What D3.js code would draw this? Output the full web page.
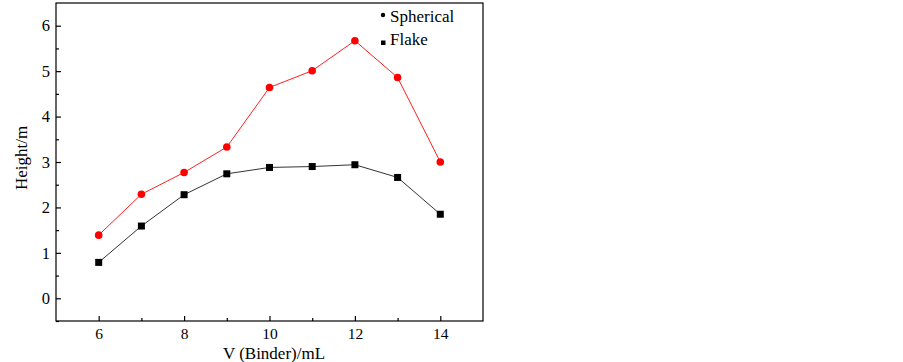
<!DOCTYPE html>
<html>
<head>
<meta charset="utf-8">
<script src="https://cdn.jsdelivr.net/npm/d3@7"></script>
<style>
  body { margin: 0; background: #fff; }
  text { font-family: "Liberation Serif", "Times New Roman", serif; fill: #000; }
</style>
</head>
<body>
<svg id="chart" width="903" height="362"></svg>
<script>
// binder volume (mL)
const volumes = [6, 7, 8, 9, 10, 11, 12, 13, 14];
const spherical = [1.39, 2.29, 2.77, 3.33, 4.64, 5.01, 5.67, 4.86, 3.0];
const flake = [0.79, 1.59, 2.28, 2.74, 2.88, 2.9, 2.94, 2.66, 1.85];
const xTicks = [6, 8, 10, 12, 14];
const xMinor = [7, 9, 11, 13];
const yTicks = [0, 1, 2, 3, 4, 5, 6];
const yMinor = [-0.5, 0.5, 1.5, 2.5, 3.5, 4.5, 5.5];

let x1 = 56, x2 = 483, y1 = 3, y2 = 321;

let svg = d3.select("#chart");

let xScale = d3.scaleLinear().domain([5, 15]).range([x1, x2]);
let yScale = d3.scaleLinear().domain([-0.5, 6.5]).range([y2, y1]);

// frame
svg.append("rect")
    .attr("x", x1).attr("y", y1)
    .attr("width", x2 - x1).attr("height", y2 - y1)
    .attr("fill", "none").attr("stroke", "#000").attr("stroke-width", 1.2);

// x axis, ticks pointing inward
let xAxis = d3.axisBottom(xScale).tickValues(xTicks).tickSizeInner(-5).tickSizeOuter(0).tickPadding(7);
let gx = svg.append("g").attr("transform", "translate(0," + y2 + ")").call(xAxis);
gx.select(".domain").remove();
gx.selectAll("text").style("font-size", "15.5px");
let xAxisMinor = d3.axisBottom(xScale).tickValues(xMinor).tickSizeInner(-3).tickSizeOuter(0).tickFormat("");
svg.append("g").attr("transform", "translate(0," + y2 + ")").call(xAxisMinor)
    .select(".domain").remove();

// y axis
let yAxis = d3.axisLeft(yScale).tickValues(yTicks).tickFormat(d3.format("d"))
    .tickSizeInner(-5).tickSizeOuter(0).tickPadding(6);
let gy = svg.append("g").attr("transform", "translate(" + x1 + ",0)").call(yAxis);
gy.select(".domain").remove();
gy.selectAll("text").style("font-size", "16.5px");
let yAxisMinor = d3.axisLeft(yScale).tickValues(yMinor).tickSizeInner(-3).tickSizeOuter(0).tickFormat("");
svg.append("g").attr("transform", "translate(" + x1 + ",0)").call(yAxisMinor)
    .select(".domain").remove();

svg.selectAll(".tick line").attr("stroke", "#000").attr("stroke-width", 1.2);

// titles
svg.append("text")
    .attr("x", 274).attr("y", 359)
    .attr("text-anchor", "middle")
    .style("font-size", "17px")
    .text("V (Binder)/mL");

svg.append("text")
    .attr("transform", "translate(27,158) rotate(-90)")
    .attr("text-anchor", "middle")
    .style("font-size", "17px")
    .text("Height/m");

// series
let sph = volumes.map((v, i) => ({x: v, y: spherical[i]}));
let flk = volumes.map((v, i) => ({x: v, y: flake[i]}));

let line = d3.line().x(d => xScale(d.x)).y(d => yScale(d.y));

svg.append("path").datum(flk)
    .attr("d", line).attr("fill", "none")
    .attr("stroke", "#333").attr("stroke-width", 1);

svg.append("path").datum(sph)
    .attr("d", line).attr("fill", "none")
    .attr("stroke", "#ff2020").attr("stroke-width", 1);

svg.selectAll(".sq").data(flk).enter().append("rect")
    .attr("class", "sq")
    .attr("x", d => xScale(d.x) - 3.5)
    .attr("y", d => yScale(d.y) - 3.5)
    .attr("width", 7).attr("height", 7)
    .attr("fill", "#000");

svg.selectAll(".dot").data(sph).enter().append("circle")
    .attr("class", "dot")
    .attr("cx", d => xScale(d.x))
    .attr("cy", d => yScale(d.y))
    .attr("r", 3.8)
    .attr("fill", "#ff0000");

// legend
svg.append("circle").attr("cx", 383).attr("cy", 15).attr("r", 2.2).attr("fill", "#000");
svg.append("text").attr("x", 390).attr("y", 22).style("font-size", "17px").text("Spherical");
svg.append("rect").attr("x", 381).attr("y", 40.5).attr("width", 4.5).attr("height", 4.5).attr("fill", "#000");
svg.append("text").attr("x", 390).attr("y", 45).style("font-size", "17px").text("Flake");
</script>
</body>
</html>
